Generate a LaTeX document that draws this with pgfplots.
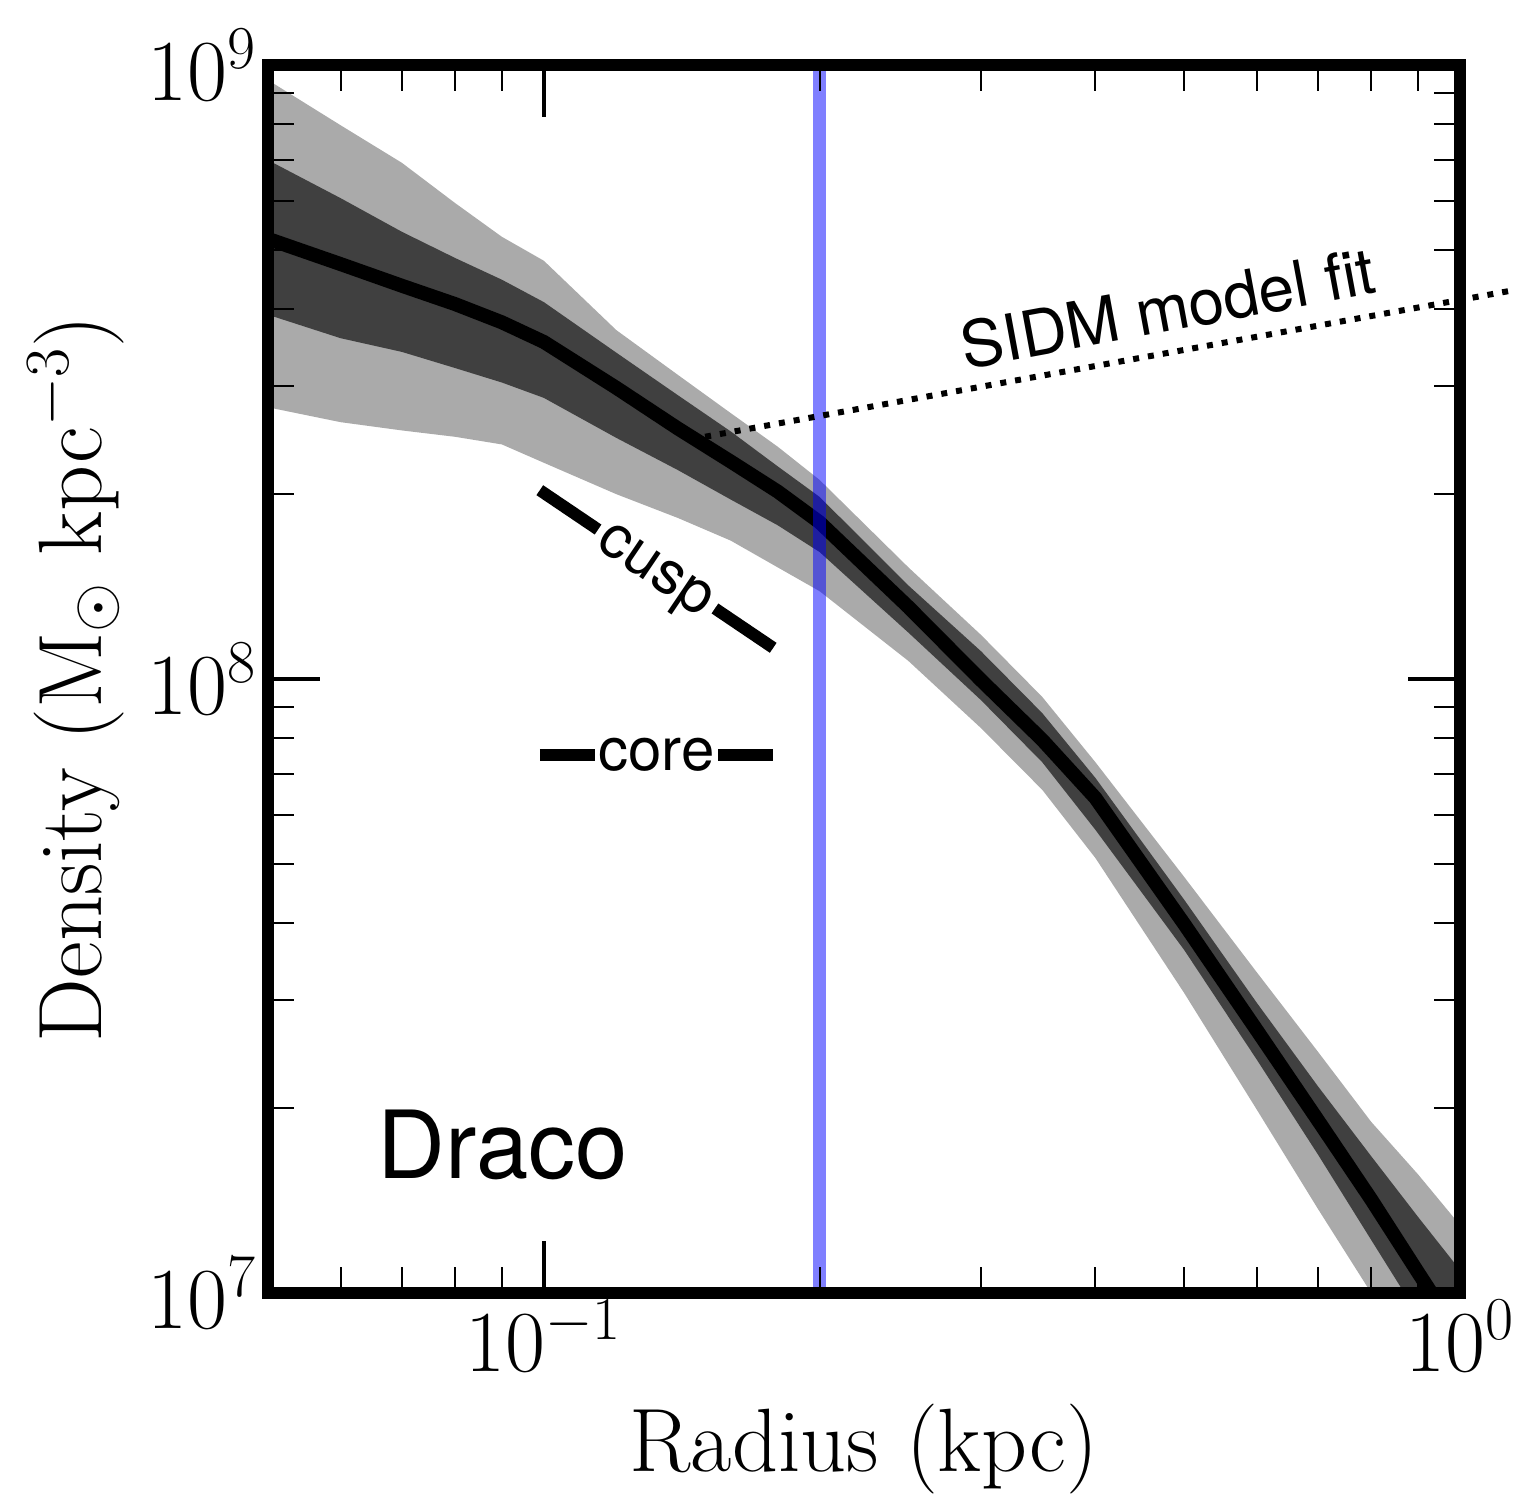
\RequirePackage{fix-cm}
\documentclass[border=0pt]{standalone}
\usepackage{pgfplots}
\pgfplotsset{compat=1.18}
\usepackage{pgfplotstable}
\usepgfplotslibrary{fillbetween}
\usepackage{fontspec}
\newfontfamily\annfont{TeX Gyre Heros}
\definecolor{lightband}{RGB}{170,170,170}
\definecolor{darkband}{RGB}{64,64,64}

\pgfplotstableread{
r     lu      du      med     dl      ll
0.05  9.45e8  7.00e8  5.21e8  3.92e8  2.77e8
0.06  7.98e8  6.07e8  4.74e8  3.59e8  2.62e8
0.07  6.93e8  5.35e8  4.37e8  3.41e8  2.54e8
0.08  5.96e8  4.85e8  4.08e8  3.21e8  2.48e8
0.09  5.25e8  4.47e8  3.81e8  3.04e8  2.41e8
0.10  4.80e8  4.11e8  3.54e8  2.87e8  2.25e8
0.12  3.70e8  3.40e8  2.98e8  2.47e8  2.00e8
0.14  3.13e8  2.90e8  2.56e8  2.19e8  1.83e8
0.16  2.71e8  2.53e8  2.26e8  1.96e8  1.68e8
0.18  2.39e8  2.22e8  2.02e8  1.78e8  1.52e8
0.20  2.11e8  1.98e8  1.80e8  1.61e8  1.39e8
0.25  1.52e8  1.42e8  1.31e8  1.19e8  1.07e8
0.30  1.18e8  1.11e8  9.96e7  9.24e7  8.32e7
0.35  9.35e7  8.80e7  7.96e7  7.32e7  6.60e7
0.40  7.32e7  6.90e7  6.40e7  5.68e7  5.11e7
0.50  4.76e7  4.37e7  3.99e7  3.62e7  3.08e7
0.60  3.33e7  2.97e7  2.68e7  2.40e7  1.99e7
0.70  2.47e7  2.17e7  1.91e7  1.68e7  1.37e7
0.80  1.90e7  1.67e7  1.42e7  1.22e7  1.00e7
0.90  1.56e7  1.33e7  1.08e7  9.21e6  7.49e6
1.00  1.29e7  1.09e7  8.48e6  7.22e6  5.76e6
}\profile

\begin{document}
\begin{tikzpicture}
\begin{axis}[name=ax,
  scale only axis, width=596pt, height=614pt,
  xmode=log, ymode=log,
  xmin=0.05, xmax=1, ymin=1e7, ymax=1e9,
  axis on top,
  axis line style={line width=6pt, line cap=rect},
  xtick={0.1,1}, ytick={1e7,1e8,1e9},
  minor xtick={0.06,0.07,0.08,0.09,0.2,0.3,0.4,0.5,0.6,0.7,0.8,0.9},
  minor ytick={2e7,3e7,4e7,5e7,6e7,7e7,8e7,9e7,2e8,3e8,4e8,5e8,6e8,7e8,8e8,9e8},
  tick align=inside,
  xtick pos=both, ytick pos=both,
  major tick length=26pt, minor tick length=13pt,
  major tick style={line width=2pt, black},
  minor tick style={line width=1pt, black},
  tick label style={font=\fontsize{43.5}{52}\selectfont},
  xticklabel style={anchor=north, inner sep=0pt, yshift=-3.5pt},
  yticklabel style={anchor=east, inner sep=0pt, xshift=-5.5pt},
  label style={font=\fontsize{45}{54}\selectfont},
  xlabel={Radius (kpc)},
  ylabel={Density (M$_\odot$ kpc$^{-3}$)},
  xlabel style={at={(axis description cs:0.5,0)}, anchor=north, inner sep=0pt, yshift=-55.5pt},
  ylabel style={at={(axis description cs:0,0.5)}, anchor=south, inner sep=0pt, yshift=72pt},
]
\addplot[name path=lu, draw=none, forget plot] table[x=r, y=lu] {\profile};
\addplot[name path=ll, draw=none, forget plot] table[x=r, y=ll] {\profile};
\addplot[name path=du, draw=none, forget plot] table[x=r, y=du] {\profile};
\addplot[name path=dl, draw=none, forget plot] table[x=r, y=dl] {\profile};
\addplot[lightband, draw=none] fill between[of=lu and ll];
\addplot[darkband, draw=none] fill between[of=du and dl];
\addplot[black, line width=7pt, line join=round] table[x=r, y=med] {\profile};
% cusp and core guide lines
\addplot[black, line width=6pt] coordinates {(0.099,2.03e8) (0.178,1.124e8)}
  node[pos=0.5, sloped, fill=white, inner xsep=3.5pt, inner ysep=2pt, text depth=0pt,
       font=\annfont\fontsize{30}{36}\selectfont] {cusp};
\addplot[black, line width=6pt] coordinates {(0.099,7.52e7) (0.178,7.52e7)}
  node[pos=0.5, fill=white, inner xsep=1.5pt, inner ysep=2pt,
       font=\annfont\fontsize{30}{36}\selectfont] {core};
% vertical marker
\addplot[blue, opacity=0.5, line width=6.5pt] coordinates {(0.2,1e7) (0.2,1e9)};
\node[font=\annfont\fontsize{47}{56}\selectfont] at (axis cs:0.0902,1.742e7) {Draco};
\end{axis}
\begin{axis}[at={(ax.south west)}, anchor=south west,
  scale only axis, width=596pt, height=614pt,
  xmode=log, ymode=log,
  xmin=0.05, xmax=1, ymin=1e7, ymax=1e9,
  hide axis, clip=false]
\addplot[black, line width=3pt, dash pattern=on 3pt off 4.5pt] coordinates {(0.15,2.48e8) (1.148,4.30e8)};
\node[anchor=base, rotate=10.5, font=\annfont\fontsize{32}{38}\selectfont] at (axis cs:0.4849,3.688e8) {SIDM model fit};
\end{axis}
\pgfresetboundingbox
\path (ax.south west) ++(-134pt,-102.5pt) rectangle ++(761pt,749pt);
\end{tikzpicture}
\end{document}
